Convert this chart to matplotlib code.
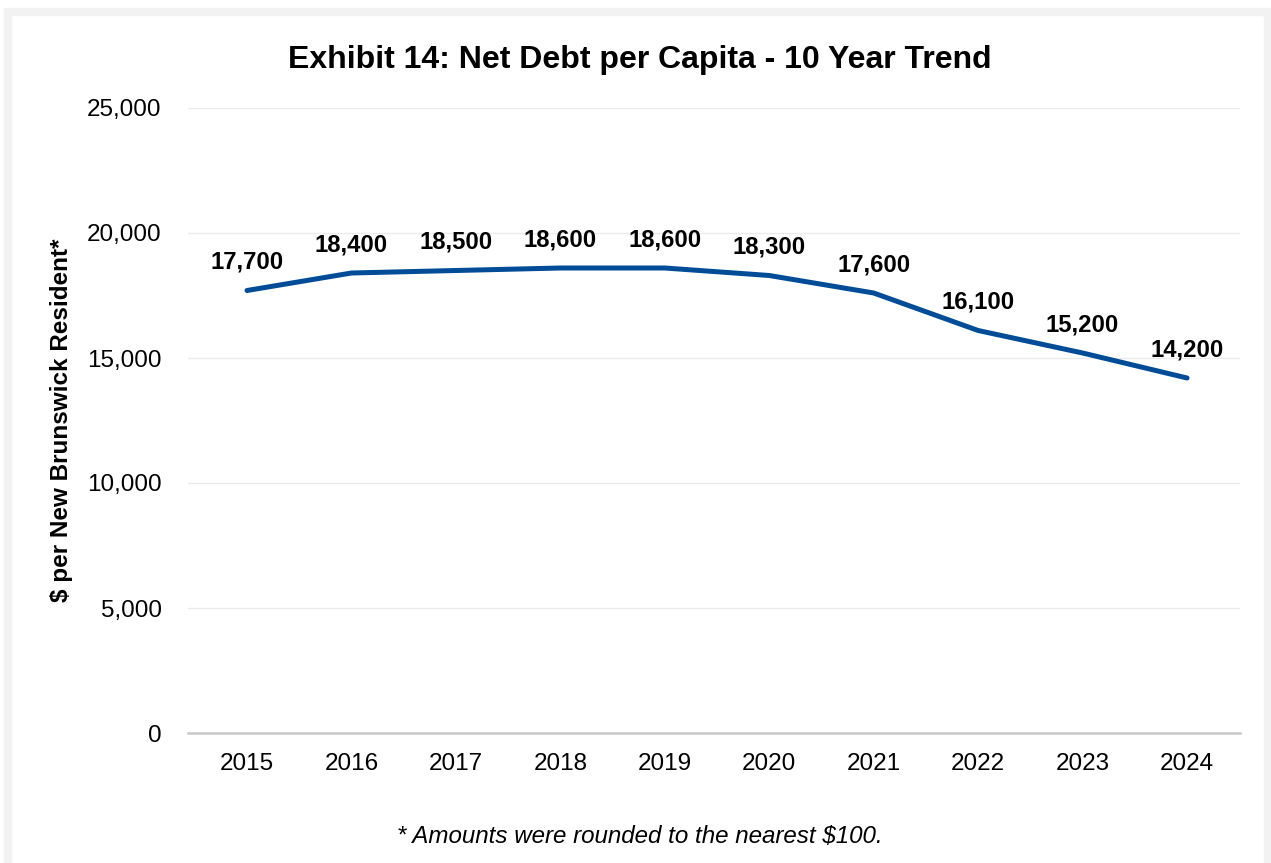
import matplotlib
matplotlib.use("Agg")
import matplotlib.pyplot as plt
from matplotlib.patches import Rectangle
from matplotlib.ticker import FuncFormatter

years = ["2015", "2016", "2017", "2018", "2019", "2020", "2021", "2022", "2023", "2024"]
net_debt_per_capita = [17700, 18400, 18500, 18600, 18600, 18300, 17600, 16100, 15200, 14200]
y_ticks = [0, 5000, 10000, 15000, 20000, 25000]

title = "Exhibit 14: Net Debt per Capita - 10 Year Trend"
y_label = "$ per New Brunswick Resident*"
footnote = "* Amounts were rounded to the nearest $100."

plt.rcParams["font.family"] = ["Liberation Sans", "DejaVu Sans"]

W, H = 1271, 863
fig = plt.figure(figsize=(W / 100, H / 100), dpi=100)
fig.patch.set_facecolor("white")

# light grey frame around the chart
frame = Rectangle((8 / W, -0.05), (1268 - 8) / W, (H - 12) / H + 0.05,
                  transform=fig.transFigure, facecolor="none",
                  edgecolor="#f2f2f2", linewidth=6, zorder=0)
fig.patches.append(frame)

ax = fig.add_axes([188 / W, 1 - 733 / H, (1240 - 188) / W, (733 - 108) / H])
x = list(range(len(years)))
ax.plot(x, net_debt_per_capita, color="#004c97", linewidth=3.6,
        solid_capstyle="round", solid_joinstyle="round", zorder=3)

for xi, v in zip(x, net_debt_per_capita):
    ax.annotate(f"{v:,}", (xi, v), xytext=(0, 20.3), textcoords="offset points",
                ha="center", va="center", fontsize=17.2, fontweight="bold",
                color="black")

ax.set_xlim(-0.565, len(years) - 1 + 0.507)
ax.set_ylim(0, 25000)
ax.set_yticks(y_ticks)
ax.yaxis.set_major_formatter(FuncFormatter(lambda v, p: f"{int(v):,}"))
ax.set_xticks(x)
ax.set_xticklabels(years)
ax.tick_params(axis="both", length=0, labelsize=17.5, colors="black")
ax.tick_params(axis="y", pad=19)
ax.tick_params(axis="x", pad=14.5)

ax.grid(axis="y", color="#ebebeb", linewidth=1.0)
ax.set_axisbelow(True)
for side in ["top", "right", "left"]:
    ax.spines[side].set_visible(False)
ax.spines["bottom"].set_color("#c8c8c8")
ax.spines["bottom"].set_linewidth(1.8)
ax.spines["bottom"].set_zorder(2)

ax.set_ylabel(y_label, fontsize=17.5, fontweight="bold")
ax.yaxis.set_label_coords((73 - 188) / (1240 - 188), 0.5)

fig.text(640 / W, 1 - 60 / H, title, ha="center", va="center",
         fontsize=23, fontweight="bold")
fig.text(640 / W, 1 - 836 / H, footnote, ha="center", va="center",
         fontsize=17.4, fontstyle="italic")

fig.savefig("out.png", dpi=100, facecolor="white")
